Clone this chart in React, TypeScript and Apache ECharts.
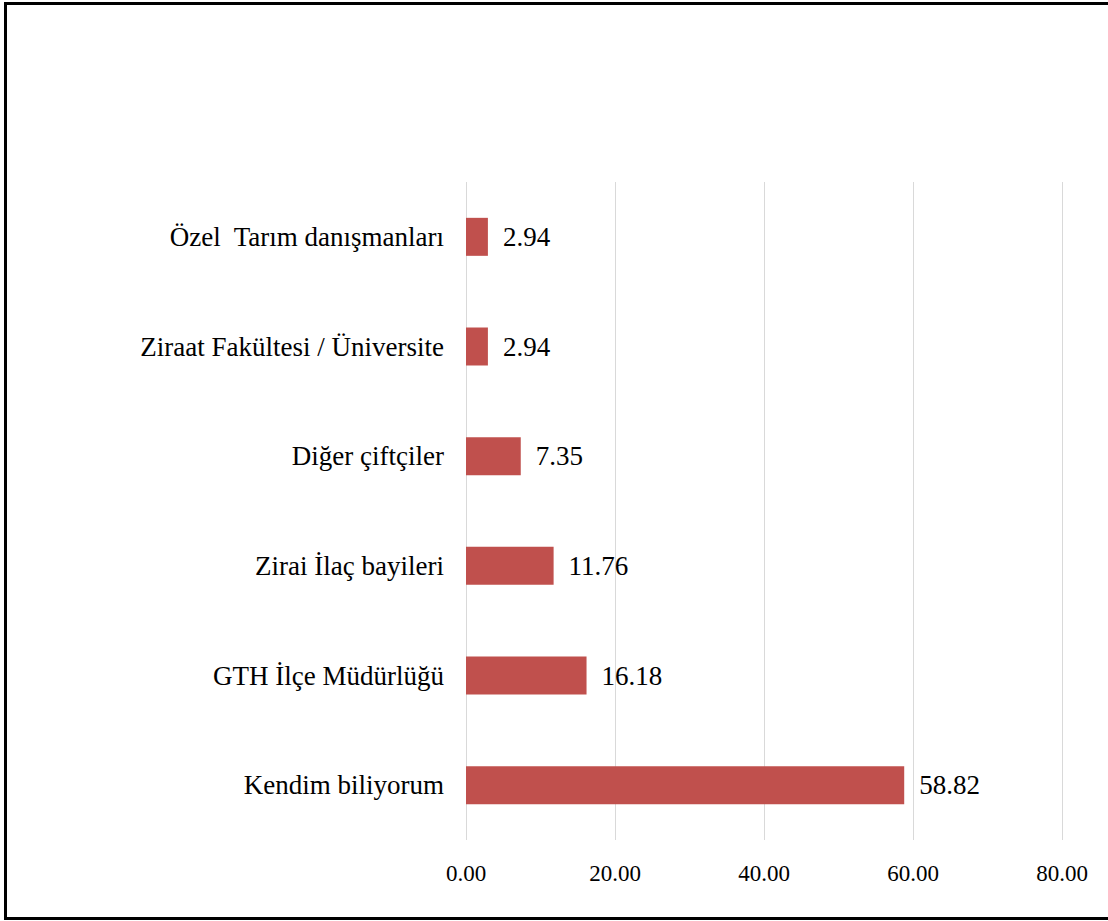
import React, { useEffect, useRef } from "react";
import * as echarts from "echarts";

const categories = [
  "Kendim biliyorum",
  "GTH İlçe Müdürlüğü",
  "Zirai İlaç bayileri",
  "Diğer çiftçiler",
  "Ziraat Fakültesi / Üniversite",
  "Özel  Tarım danışmanları",
];
const values = [58.82, 16.18, 11.76, 7.35, 2.94, 2.94];
const xTicks = { min: 0, max: 80, interval: 20 };

const FONT = "Liberation Serif";

export default function App() {
  const ref = useRef<HTMLDivElement>(null);
  useEffect(() => {
    if (!ref.current) return;
    const chart = echarts.init(ref.current, undefined, { renderer: "svg" });
    chart.setOption({
      animation: false,
      backgroundColor: "#ffffff",
      textStyle: { fontFamily: FONT },
      grid: { left: 466, right: 46, top: 182, bottom: 81, containLabel: false },
      xAxis: {
        type: "value",
        min: xTicks.min,
        max: xTicks.max,
        interval: xTicks.interval,
        axisLine: { show: false },
        axisTick: { show: false },
        splitLine: { show: true, lineStyle: { color: "#d9d9d9", width: 1 } },
        axisLabel: {
          formatter: (v: number) => v.toFixed(2),
          fontFamily: FONT,
          fontSize: 23,
          color: "#000",
          margin: 22,
        },
      },
      yAxis: {
        type: "category",
        data: categories,
        axisLine: { show: false },
        axisTick: { show: false },
        axisLabel: {
          fontFamily: FONT,
          fontSize: 27,
          color: "#000",
          margin: 22,
        },
      },
      series: [
        {
          type: "bar",
          data: values,
          barWidth: 38,
          itemStyle: { color: "#C0504D" },
          label: {
            show: true,
            position: "right",
            distance: 15,
            formatter: (p: any) => Number(p.value).toFixed(2),
            fontFamily: FONT,
            fontSize: 27,
            color: "#000",
          },
        },
      ],
      graphic: [
        {
          type: "rect",
          shape: { x: 5.5, y: 3.5, width: 1110, height: 915 },
          style: { fill: "none", stroke: "#000", lineWidth: 3 },
          z: 100,
        },
      ],
    });
    return () => chart.dispose();
  }, []);
  return (
    <div
      ref={ref}
      style={{ position: "fixed", left: 0, top: 0, width: 1108, height: 921 }}
    />
  );
}
